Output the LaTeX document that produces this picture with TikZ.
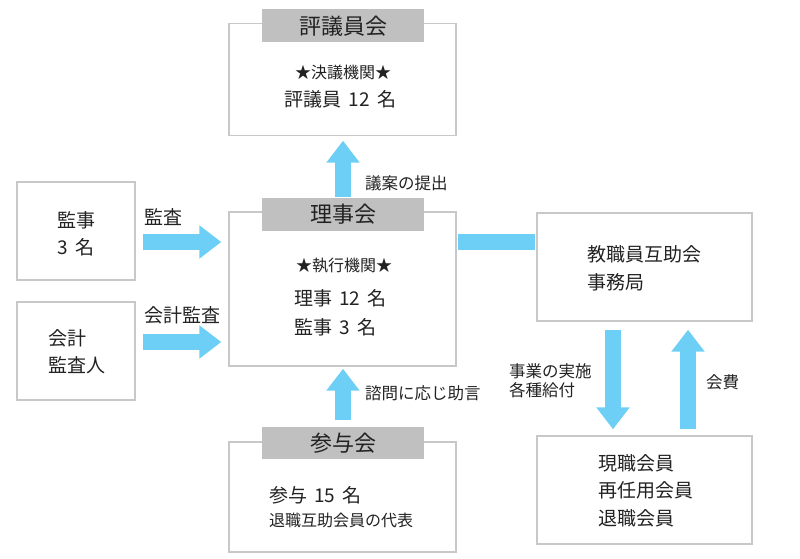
\documentclass[tikz,border=0pt]{standalone}
\usepackage{fontspec}
\setmainfont{Noto Sans CJK JP}
\usetikzlibrary{arrows.meta,calc}
\definecolor{arrowblue}{HTML}{6DCFF6}
\definecolor{boxline}{HTML}{C8C8C8}
\definecolor{headgray}{HTML}{C0C0C0}
\definecolor{txt}{HTML}{222222}
\newcommand{\gp}{\hspace{0.38em}}
\begin{document}
\begin{tikzpicture}[x=1pt,y=-1pt,
  frame/.style={draw=boxline,line width=1.4pt,fill=white,inner sep=0pt},
  head/.style={fill=headgray,inner sep=0pt,minimum width=162pt,minimum height=33pt,text=txt,font=\fontsize{22}{26}\selectfont},
  bigtxt/.style={text=txt,inner sep=0pt,font=\fontsize{19}{23}\selectfont},
  startxt/.style={text=txt,inner sep=0pt,font=\fontsize{16}{19}\selectfont},
  smalltxt/.style={text=txt,inner sep=0pt,font=\fontsize{16.5}{20}\selectfont},
  lbltxt/.style={text=txt,inner sep=0pt,font=\fontsize{19}{23}\selectfont},
  bigarrow/.style={draw=arrowblue,line width=16pt,-{Triangle[width=32pt,length=22pt]}},
  bar/.style={draw=arrowblue,line width=16pt}]
\useasboundingbox (0,0) rectangle (800,559);

% boxes
\node[frame,minimum width=227pt,minimum height=112pt] (hyo) at (342.5,79.5) {};
\node[head] (hyohead) at (343,26) {評議員会};
\node[frame,minimum width=227pt,minimum height=154pt] (rij) at (342.5,289) {};
\node[head] (rijhead) at (343,214.5) {理事会};
\node[frame,minimum width=227pt,minimum height=110pt] (san) at (342.5,497) {};
\node[head,minimum height=32pt] (sanhead) at (343,443) {参与会};
\node[frame,minimum width=118pt,minimum height=98pt] (kan) at (76,231) {};
\node[frame,minimum width=118pt,minimum height=98pt] (kai) at (76,351) {};
\node[frame,minimum width=215pt,minimum height=108pt] (jimu) at (644.5,267) {};
\node[frame,minimum width=215pt,minimum height=108pt] (mem) at (644.5,490) {};

% texts
\node[startxt] (hyo1) at (343,72) {★決議機関★};
\node[bigtxt] (hyo2) at (340.5,99) {評議員\gp 12\gp 名};
\node[startxt] (rij1) at (344,266) {★執行機関★};
\node[bigtxt,anchor=west] (rij2) at (294,298) {理事\gp 12\gp 名};
\node[bigtxt,anchor=west] (rij3) at (294,327) {監事\gp 3\gp 名};
\node[bigtxt,anchor=west] (san1) at (269,495) {参与\gp 15\gp 名};
\node[smalltxt,font=\fontsize{16}{19}\selectfont,anchor=west] (san2) at (269,520) {退職互助会員の代表};
\node[bigtxt] (kan1) at (76,220) {監事};
\node[bigtxt] (kan2) at (76,247) {3\gp 名};
\node[bigtxt,anchor=west] (kai1) at (48,338) {会計};
\node[bigtxt,anchor=west] (kai2) at (48,365) {監査人};
\node[bigtxt,anchor=west] (jimu1) at (587,254) {教職員互助会};
\node[bigtxt,anchor=west] (jimu2) at (587,282) {事務局};
\node[bigtxt,anchor=west] (mem1) at (598,463) {現職会員};
\node[bigtxt,anchor=west] (mem2) at (598,490) {再任用会員};
\node[bigtxt,anchor=west] (mem3) at (598,518) {退職会員};

% connectors
\draw[bigarrow] ($(kan.east)+(7,11)$) -- ($(rij.west |- kan.east)+(-7,11)$);
\draw[bigarrow] ($(kai.east)+(7,-9)$) -- ($(rij.west |- kai.east)+(-7,-9)$);
\draw[bigarrow] ($(rijhead.north)+(0,-1)$) -- ($(hyo.south)+(0.5,4.5)$);
\draw[bigarrow] ($(sanhead.north)+(0,-7)$) -- ($(rij.south)+(0.5,2)$);
\draw[bar] ($(rij.east)+(1,-47)$) -- ($(jimu.west |- rij.east)+(-1,-47)$);
\draw[bigarrow] ($(jimu.south)+(-31.5,8)$) -- ($(mem.north)+(-31.5,-6)$);
\draw[bigarrow] ($(mem.north)+(43.5,-6)$) -- ($(jimu.south)+(43.5,8)$);

% labels
\node[lbltxt,anchor=west] (l1) at (144,217) {監査};
\node[lbltxt,anchor=west] (l2) at (144,315) {会計監査};
\node[smalltxt,anchor=west] (l3) at (365,183) {議案の提出};
\node[smalltxt,anchor=west] (l4) at (365,393) {諮問に応じ助言};
\node[smalltxt,anchor=west] (l5) at (509,371) {事業の実施};
\node[smalltxt,anchor=west] (l6) at (509,390) {各種給付};
\node[smalltxt,anchor=west] (l7) at (706,382) {会費};
\end{tikzpicture}
\end{document}
